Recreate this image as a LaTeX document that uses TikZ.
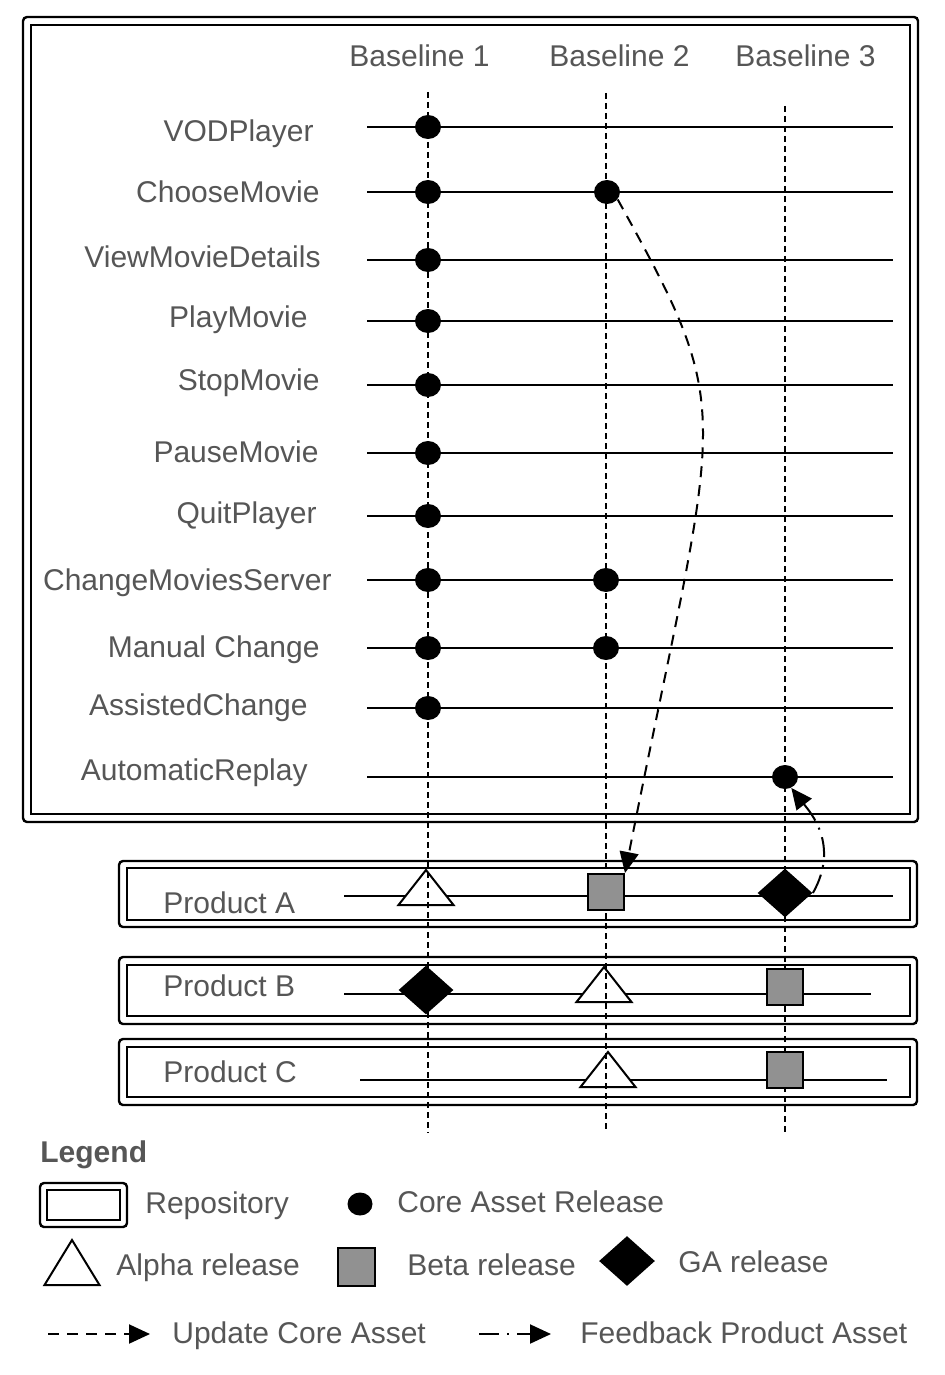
\documentclass[tikz,border=0pt]{standalone}
\usepackage{fontspec}
\setmainfont{Liberation Sans}
\usetikzlibrary{shapes.geometric,arrows.meta}
\definecolor{txt}{RGB}{86,86,86}
\definecolor{betagray}{RGB}{145,145,145}
\begin{document}
\begin{tikzpicture}[x=0.5pt,y=-0.5pt,
  lbl/.style={font=\fontsize{15}{18}\selectfont, text=txt, inner sep=0pt, anchor=base east},
  lblw/.style={lbl, anchor=base west},
  frame/.style={line width=1.2pt},
  hline/.style={line width=1pt},
  vdash/.style={line width=0.85pt, dash pattern=on 3pt off 2pt},
  core/.style={ellipse, fill=black, inner sep=0pt, minimum width=13pt, minimum height=12pt},
  alpharel/.style={isosceles triangle, isosceles triangle stretches, shape border rotate=90,
    draw=black, fill=white, line width=1pt, inner sep=0pt, outer sep=0pt,
    minimum width=27.5pt, minimum height=17.5pt, anchor=apex},
  betarel/.style={rectangle, draw=black, fill=betagray, line width=1pt, inner sep=0pt,
    minimum width=18pt, minimum height=18pt},
  garel/.style={diamond, fill=black, inner sep=0pt, minimum width=27.5pt, minimum height=24.5pt},
  upd/.style={line width=1pt, dash pattern=on 5.5pt off 4pt},
  fb/.style={line width=1pt, dash pattern=on 10pt off 4pt on 1pt off 4pt},
  tip/.style={-{Triangle[length=10.5pt,width=9.5pt]}}
]
\fill[white] (0,0) rectangle (944,1375);
\useasboundingbox (0,0) rectangle (944,1375);

% repositories
\draw[frame, rounded corners=2pt] (23,17) rectangle (918,822);
\draw[frame] (31,25) rectangle (910,814);
\draw[frame, rounded corners=2pt] (119,861) rectangle (917,927);
\draw[frame] (127,868) rectangle (910,920);
\draw[frame, rounded corners=2pt] (119,957) rectangle (917,1024);
\draw[frame] (127,965) rectangle (910,1016);
\draw[frame, rounded corners=2pt] (119,1039) rectangle (917,1105);
\draw[frame] (127,1047) rectangle (910,1097);

% baseline headings
\node[lblw] (bl1) at (349,67) {Baseline 1};
\node[lblw] (bl2) at (549,67) {Baseline 2};
\node[lblw] (bl3) at (735,67) {Baseline 3};

% core asset labels
\node[lbl] (l1) at (314,142) {VODPlayer};
\node[lbl] (l2) at (320,203) {ChooseMovie};
\node[lbl] (l3) at (321,267) {ViewMovieDetails};
\node[lbl] (l4) at (308,327) {PlayMovie};
\node[lbl] (l5) at (320,390) {StopMovie};
\node[lbl] (l6) at (319,462) {PauseMovie};
\node[lbl] (l7) at (317,523) {QuitPlayer};
\node[lbl] (l8) at (332,590) {ChangeMoviesServer};
\node[lbl] (l9) at (320,657) {Manual Change};
\node[lbl] (l10) at (308,715) {AssistedChange};
\node[lbl] (l11) at (308,780) {AutomaticReplay};

% core asset timelines
\foreach \y [count=\i] in {127,192,260,321,385,453,516,580,648,708,777}{
  \coordinate (rs\i) at (367,\y);
  \coordinate (re\i) at (893,\y);
  \draw[hline] (rs\i) -- (re\i);
}

% products
\node[lblw] (pa) at (163,913) {Product A};
\node[lblw] (pb) at (163,996) {Product B};
\node[lblw] (pc) at (163,1082) {Product C};
\coordinate (pas) at (344,896); \coordinate (pae) at (893,896);
\coordinate (pbs) at (344,994); \coordinate (pbe) at (871,994);
\coordinate (pcs) at (360,1080); \coordinate (pce) at (887,1080);
\draw[hline] (pas) -- (pae);
\draw[hline] (pbs) -- (pbe);
\draw[hline] (pcs) -- (pce);

% alpha releases
\node[alpharel] (triA) at (426,870) {};
\node[alpharel] (triB) at (604,967) {};
\node[alpharel] (triC) at (608,1052) {};

% baselines
\coordinate (b1t) at (428,92);  \coordinate (b1b) at (428,1133);
\coordinate (b2t) at (606,93);  \coordinate (b2b) at (606,1129);
\coordinate (b3t) at (785,106); \coordinate (b3b) at (785,1132);
\draw[vdash] (b1t) -- (b1b);
\draw[vdash] (b2t) -- (b2b);
\draw[vdash] (b3t) -- (b3b);

% core asset releases
\foreach \y [count=\i] in {127,192,260,321,385,453,516,580,648,708}{
  \node[core] (c1\i) at (428,\y) {};
}
\node[core] (cm2) at (607,192) {};
\node[core] (cs2) at (606,580) {};
\node[core] (mc2) at (606,648) {};
\node[core] (ar3) at (785,777) {};

% beta and GA releases
\node[betarel] (sqA) at (606,892) {};
\node[betarel] (sqB) at (785,987) {};
\node[betarel] (sqC) at (785,1070) {};
\node[garel] (dA) at (785,893) {};
\node[garel] (dB) at (426,990) {};

% update / feedback
\draw[upd, tip] (cm2.-35) .. controls (740,420) and (719,400) .. (sqA.north east);
\draw[fb, tip] (dA.east) .. controls (840,845) and (810,812) .. (ar3.-60);

% legend
\node[lblw, font=\fontsize{15}{18}\selectfont\bfseries] (leg) at (40,1162) {Legend};
\draw[frame, rounded corners=2pt] (40,1183) rectangle (127,1227);
\draw[frame] (47,1190) rectangle (120,1220);
\node[lblw] (tRepo) at (145,1213) {Repository};
\node[core, minimum width=12.5pt, minimum height=11.5pt] (lgcore) at (360,1204) {};
\node[lblw] (tCore) at (397,1212) {Core Asset Release};
\node[alpharel, minimum height=22.5pt] (lgalpha) at (72,1240) {};
\node[lblw] (tAlpha) at (116,1275) {Alpha release};
\node[betarel, minimum width=18.5pt, minimum height=19pt] (lgbeta) at (356,1267) {};
\node[lblw] (tBeta) at (407,1275) {Beta release};
\node[garel, minimum width=28pt, minimum height=25pt] (lgga) at (627,1261) {};
\node[lblw] (tGA) at (678,1272) {GA release};
\coordinate (u1) at (48,1334); \coordinate (u2) at (150,1334);
\draw[upd, tip] (u1) -- (u2);
\node[lblw] (tUpd) at (172,1343) {Update Core Asset};
\coordinate (f1) at (479,1334); \coordinate (f2) at (551,1334);
\draw[fb, tip] (f1) -- (f2);
\node[lblw] (tFb) at (580,1343) {Feedback Product Asset};
\end{tikzpicture}
\end{document}
